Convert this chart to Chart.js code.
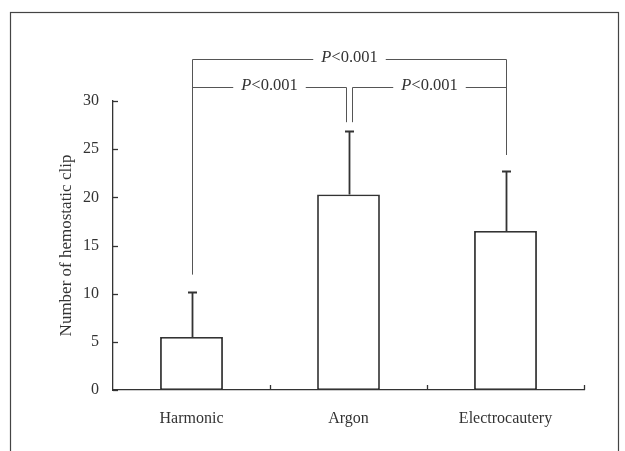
<!DOCTYPE html>
<html>
<head>
<meta charset="utf-8">
<script src="https://cdn.jsdelivr.net/npm/chart.js@4.4.1/dist/chart.umd.min.js"></script>
<style>
  html, body { margin: 0; padding: 0; background: #fff; }
  #contenedor { position: relative; width: 625px; height: 451px; }
</style>
</head>
<body>
<div id="contenedor"><canvas id="graficoClips"></canvas></div>
<script>
// datos
const categorias = ['Harmonic', 'Argon', 'Electrocautery'];
const medias = [5.5, 20.3, 16.5];
const desviaciones = [4.7, 6.6, 6.2];
const ticksY = [0, 5, 10, 15, 20, 25, 30];

// comparaciones entre grupos
const pares = [[0, 1], [1, 2], [0, 2]];
const nivelPar = [31.5, 31.5, 34.4];
const bajadaIzq = [12.0, 27.8, 12.0];
const bajadaDer = [27.8, 24.4, 24.4];
const etiquetaP = ['<0.001', '<0.001', '<0.001'];

const FUENTE = "'Liberation Serif', 'Times New Roman', serif";
const TINTA = '#333333';

const pluginExtras = {
  id: 'extras',
  beforeDraw(chart) {
    const ctx = chart.ctx;
    ctx.save();
    ctx.strokeStyle = '#444';
    ctx.lineWidth = 1.2;
    ctx.strokeRect(10.5, 12.5, 608, 480);
    ctx.restore();
  },
  afterDatasetsDraw(chart) {
    const ctx = chart.ctx;
    const x = chart.scales.x;
    const y = chart.scales.y;
    const area = chart.chartArea;
    const medio = (x.getPixelForValue(1) - x.getPixelForValue(0)) / 2;

    ctx.save();
    ctx.strokeStyle = TINTA;
    ctx.lineWidth = 1.3;

    // marcas hacia dentro en el eje Y
    ticksY.forEach(v => {
      const py = Math.round(y.getPixelForValue(v)) + 0.5;
      ctx.beginPath();
      ctx.moveTo(area.left, py);
      ctx.lineTo(area.left + 5, py);
      ctx.stroke();
    });

    // marcas entre categorias en el eje X
    categorias.forEach((c, i) => {
      const px = Math.round(x.getPixelForValue(i) + medio) + 0.5;
      ctx.beginPath();
      ctx.moveTo(px, area.bottom);
      ctx.lineTo(px, area.bottom - 5);
      ctx.stroke();
    });

    // barras de error (solo hacia arriba)
    ctx.lineWidth = 1.8;
    medias.forEach((m, i) => {
      const px = Math.round(x.getPixelForValue(i)) + 0.5;
      const y0 = y.getPixelForValue(m);
      const y1 = Math.round(y.getPixelForValue(m + desviaciones[i])) + 0.5;
      ctx.beginPath();
      ctx.moveTo(px, y0);
      ctx.lineTo(px, y1);
      ctx.moveTo(px - 4.5, y1);
      ctx.lineTo(px + 4.5, y1);
      ctx.stroke();
    });

    // corchetes de significancia
    ctx.strokeStyle = '#555';
    ctx.lineWidth = 1;
    ctx.fillStyle = TINTA;
    ctx.textBaseline = 'middle';
    const ultimo = categorias.length - 1;
    pares.forEach((p, k) => {
      let xa = x.getPixelForValue(p[0]);
      let xb = x.getPixelForValue(p[1]);
      if (p[0] !== 0) xa += 3;
      if (p[1] !== ultimo) xb -= 3;
      xa = Math.round(xa) + 0.5;
      xb = Math.round(xb) + 0.5;
      const yl = Math.round(y.getPixelForValue(nivelPar[k])) + 0.5;
      const ya = y.getPixelForValue(bajadaIzq[k]);
      const yb = y.getPixelForValue(bajadaDer[k]);

      ctx.font = 'italic 16.5px ' + FUENTE;
      const wP = ctx.measureText('P').width;
      ctx.font = '16.5px ' + FUENTE;
      const wR = ctx.measureText(etiquetaP[k]).width;
      const total = wP + wR;
      const cx = (xa + xb) / 2;
      const t0 = cx - total / 2;
      const gap = 8;

      ctx.beginPath();
      ctx.moveTo(xa, ya);
      ctx.lineTo(xa, yl);
      ctx.lineTo(t0 - gap, yl);
      ctx.moveTo(t0 + total + gap, yl);
      ctx.lineTo(xb, yl);
      ctx.lineTo(xb, yb);
      ctx.stroke();

      ctx.textAlign = 'left';
      ctx.font = 'italic 16.5px ' + FUENTE;
      ctx.fillText('P', t0, yl - 2);
      ctx.font = '16.5px ' + FUENTE;
      ctx.fillText(etiquetaP[k], t0 + wP, yl - 2);
    });
    ctx.restore();
  }
};

function crearGrafico() {
  const ctx = document.getElementById('graficoClips').getContext('2d');
  new Chart(ctx, {
    type: 'bar',
    data: {
      labels: categorias,
      datasets: [{
        data: medias,
        backgroundColor: '#ffffff',
        borderColor: TINTA,
        borderWidth: 1.8,
        borderSkipped: false,
        categoryPercentage: 1,
        barPercentage: 0.4
      }]
    },
    options: {
      responsive: true,
      maintainAspectRatio: false,
      animation: false,
      layout: { padding: { top: 101, right: 41, bottom: 0, left: 0 } },
      plugins: {
        legend: { display: false },
        tooltip: { enabled: false }
      },
      scales: {
        x: {
          grid: { display: false },
          border: { display: true, color: TINTA, width: 1.3 },
          ticks: { color: TINTA, font: { family: FUENTE, size: 16 }, padding: 11 },
          afterFit: s => { s.height = 61; }
        },
        y: {
          min: 0,
          max: 30,
          grid: { display: false },
          border: { display: true, color: TINTA, width: 1.3 },
          ticks: { color: TINTA, font: { family: FUENTE, size: 16 }, padding: 6 },
          afterBuildTicks: s => { s.ticks = ticksY.map(v => ({ value: v })); },
          afterFit: s => { s.width = 113; },
          title: {
            display: true,
            text: 'Number of hemostatic clip',
            color: TINTA,
            font: { family: FUENTE, size: 17 },
            padding: { top: 56, bottom: 0 }
          }
        }
      }
    },
    plugins: [pluginExtras]
  });
}

window.addEventListener('DOMContentLoaded', () => {
  crearGrafico();
});
</script>
</body>
</html>
